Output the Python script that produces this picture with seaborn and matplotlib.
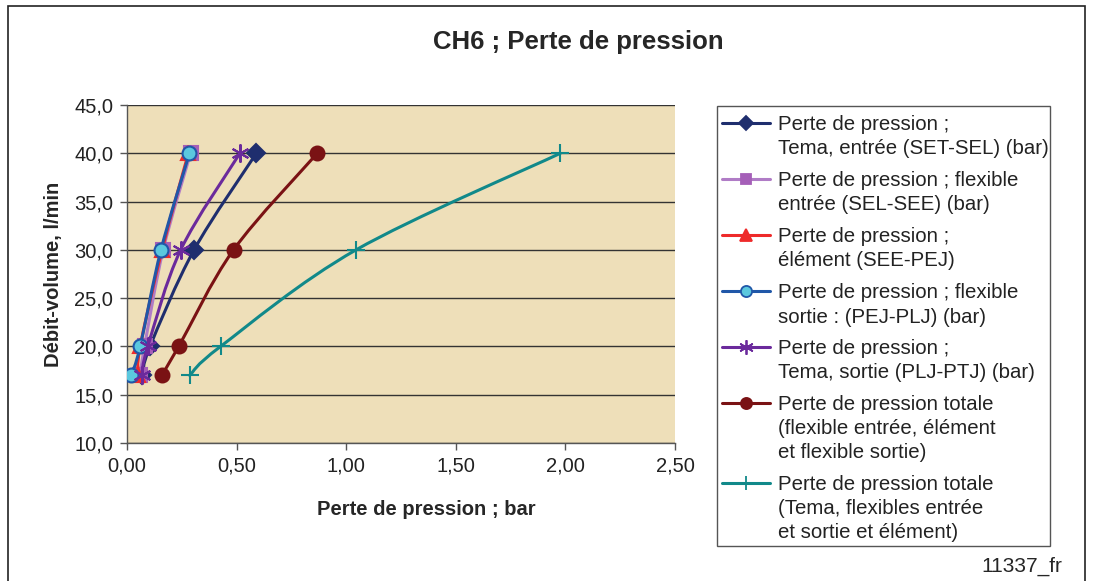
import numpy as np
import pandas as pd
import matplotlib
matplotlib.use('Agg')
import matplotlib.pyplot as plt
from matplotlib.patches import Rectangle, PathPatch
from matplotlib.path import Path
from matplotlib.lines import Line2D
from matplotlib.ticker import FuncFormatter, MultipleLocator
import seaborn as sns

# Flow rates (l/min) and pressure losses (bar) per series
flow = [17, 20, 30, 40]
tema_entree = [0.07, 0.105, 0.306, 0.59]
flex_entree = [0.06, 0.08, 0.165, 0.29]
element = [0.05, 0.06, 0.16, 0.28]
flex_sortie = [0.02, 0.06, 0.155, 0.285]
tema_sortie = [0.067, 0.095, 0.245, 0.515]
total_flex = [0.158, 0.236, 0.486, 0.868]
total_tema = [0.286, 0.427, 1.045, 1.977]

labels = [
    "Perte de pression ;\nTema, entrée (SET-SEL) (bar)",
    "Perte de pression ; flexible\nentrée (SEL-SEE) (bar)",
    "Perte de pression ;\nélément (SEE-PEJ)",
    "Perte de pression ; flexible\nsortie : (PEJ-PLJ) (bar)",
    "Perte de pression ;\nTema, sortie (PLJ-PTJ) (bar)",
    "Perte de pression totale\n(flexible entrée, élément\net flexible sortie)",
    "Perte de pression totale\n(Tema, flexibles entrée\net sortie et élément)",
]
series = [tema_entree, flex_entree, element, flex_sortie, tema_sortie, total_flex, total_tema]

styles = [
    dict(color='#1F2E6E', marker='D', markersize=9.5, mfc='#1F2E6E', mec='#1F2E6E'),
    dict(color='#B07CC6', marker='s', markersize=9.5, mfc='#A55FB8', mec='#A55FB8'),
    dict(color='#EE2A2A', marker='^', markersize=10, mfc='#EE2A2A', mec='#EE2A2A'),
    dict(color='#2057A8', marker='o', markersize=10, mfc='#5BC8DE', mec='#2057A8'),
    dict(color='#6B2A9C', marker=(6, 2, 0), markersize=13, mfc='#6B2A9C', mec='#6B2A9C'),
    dict(color='#7A1214', marker='o', markersize=10, mfc='#7A1214', mec='#7A1214'),
    dict(color='#11898A', marker='+', markersize=13, mfc='#11898A', mec='#11898A'),
]

W, H = 1094, 581
XMAX, YMIN, YMAX = 2.5, 10, 45
AX_W, AX_H = 548, 338


def smooth_path(xs, ys):
    # Excel-like smoothed line: Catmull-Rom segments as cubic Beziers,
    # computed in screen-proportional space then mapped back to data
    p = np.column_stack([np.asarray(xs) / XMAX * AX_W,
                         (np.asarray(ys) - YMIN) / (YMAX - YMIN) * AX_H])
    ext = np.vstack([p[0], p, p[-1]])
    verts = [p[0]]
    codes = [Path.MOVETO]
    for i in range(len(p) - 1):
        p0, p1, p2, p3 = ext[i], ext[i + 1], ext[i + 2], ext[i + 3]
        verts += [p1 + (p2 - p0) / 6, p2 - (p3 - p1) / 6, p2]
        codes += [Path.CURVE4] * 3
    v = np.array(verts)
    v[:, 0] = v[:, 0] / AX_W * XMAX
    v[:, 1] = v[:, 1] / AX_H * (YMAX - YMIN) + YMIN
    return Path(v, codes)


sns.set_style('white')
plt.rcParams['font.family'] = ['Liberation Sans', 'DejaVu Sans']

fig = plt.figure(figsize=(W / 100, H / 100), dpi=100)
ax = fig.add_axes([127 / W, 1 - 443 / H, AX_W / W, AX_H / H])
ax.set_facecolor('#EEDFB9')

for i, (vals, st) in enumerate(zip(series, styles)):
    z = 3 + i * 0.1
    ax.add_patch(PathPatch(smooth_path(vals, flow), fill=False, edgecolor=st['color'],
                           lw=2.2, zorder=z, capstyle='round', joinstyle='round'))
    df = pd.DataFrame({'x': vals, 'y': flow})
    sns.lineplot(data=df, x='x', y='y', ax=ax, sort=False, estimator=None,
                 linestyle='none', marker=st['marker'], markersize=st['markersize'],
                 markerfacecolor=st['mfc'], markeredgecolor=st['mec'],
                 markeredgewidth=1.5, zorder=z + 0.05, legend=False)

ax.set_xlim(0, XMAX)
ax.set_ylim(YMIN, YMAX)
ax.xaxis.set_major_locator(MultipleLocator(0.5))
ax.yaxis.set_major_locator(MultipleLocator(5))
ax.xaxis.set_major_formatter(FuncFormatter(lambda v, p: f"{v:.2f}".replace('.', ',')))
ax.yaxis.set_major_formatter(FuncFormatter(lambda v, p: f"{v:.1f}".replace('.', ',')))
ax.grid(axis='y', color='#333333', lw=1)
ax.grid(axis='x', visible=False)
ax.set_axisbelow(True)
for s in ['top', 'right']:
    ax.spines[s].set_visible(False)
for s in ['left', 'bottom']:
    ax.spines[s].set_color('#555555')
    ax.spines[s].set_linewidth(1)
ax.tick_params(axis='both', direction='out', length=5, width=1, color='#555555',
               labelsize=14.5, labelcolor='#222222', bottom=True, left=True, pad=5)
ax.set_xlabel('Perte de pression ; bar', fontsize=14.5, fontweight='bold')
ax.xaxis.set_label_coords((426 - 127) / AX_W, -57 / AX_H)
ax.set_ylabel('Débit-volume, l/min', fontsize=14.5, fontweight='bold', labelpad=8)

fig.text(578 / W, 1 - 42 / H, 'CH6 ; Perte de pression', ha='center', va='center',
         fontsize=18.5, fontweight='bold')

# legend drawn by hand so the handle sits on the first line of each label
fig.add_artist(Rectangle((717 / W, 1 - 546 / H), 333 / W, 440 / H, transform=fig.transFigure,
                         fill=False, edgecolor='#555555', lw=1))
line_h, gap = 24, 32
y = 123
for lab, st in zip(labels, styles):
    n = lab.count('\n') + 1
    fy = 1 - y / H
    fig.add_artist(Line2D([722 / W, 770 / W], [fy, fy], transform=fig.transFigure,
                          color=st['color'], lw=2.2))
    fig.add_artist(Line2D([746 / W], [fy], transform=fig.transFigure, linestyle='none',
                          marker=st['marker'], markersize=st['markersize'] * 0.8,
                          markerfacecolor=st['mfc'], markeredgecolor=st['mec'],
                          markeredgewidth=1.3))
    # va='baseline' anchors the last line of a multi-line text
    fig.text(778 / W, 1 - (y + 7.5 + (n - 1) * line_h) / H, lab, ha='left', va='baseline',
             fontsize=14.7, linespacing=1.34, color='#222222')
    y += (n - 1) * line_h + gap

fig.text(1022 / W, 1 - 566 / H, '11337_fr', ha='center', va='center', fontsize=15)

fig.add_artist(Rectangle((8 / W, -0.02), 1077 / W, 0.02 + 1 - 6 / H,
                         transform=fig.transFigure, fill=False, edgecolor='#222222', lw=1.2))

fig.savefig('out.png', dpi=100)
